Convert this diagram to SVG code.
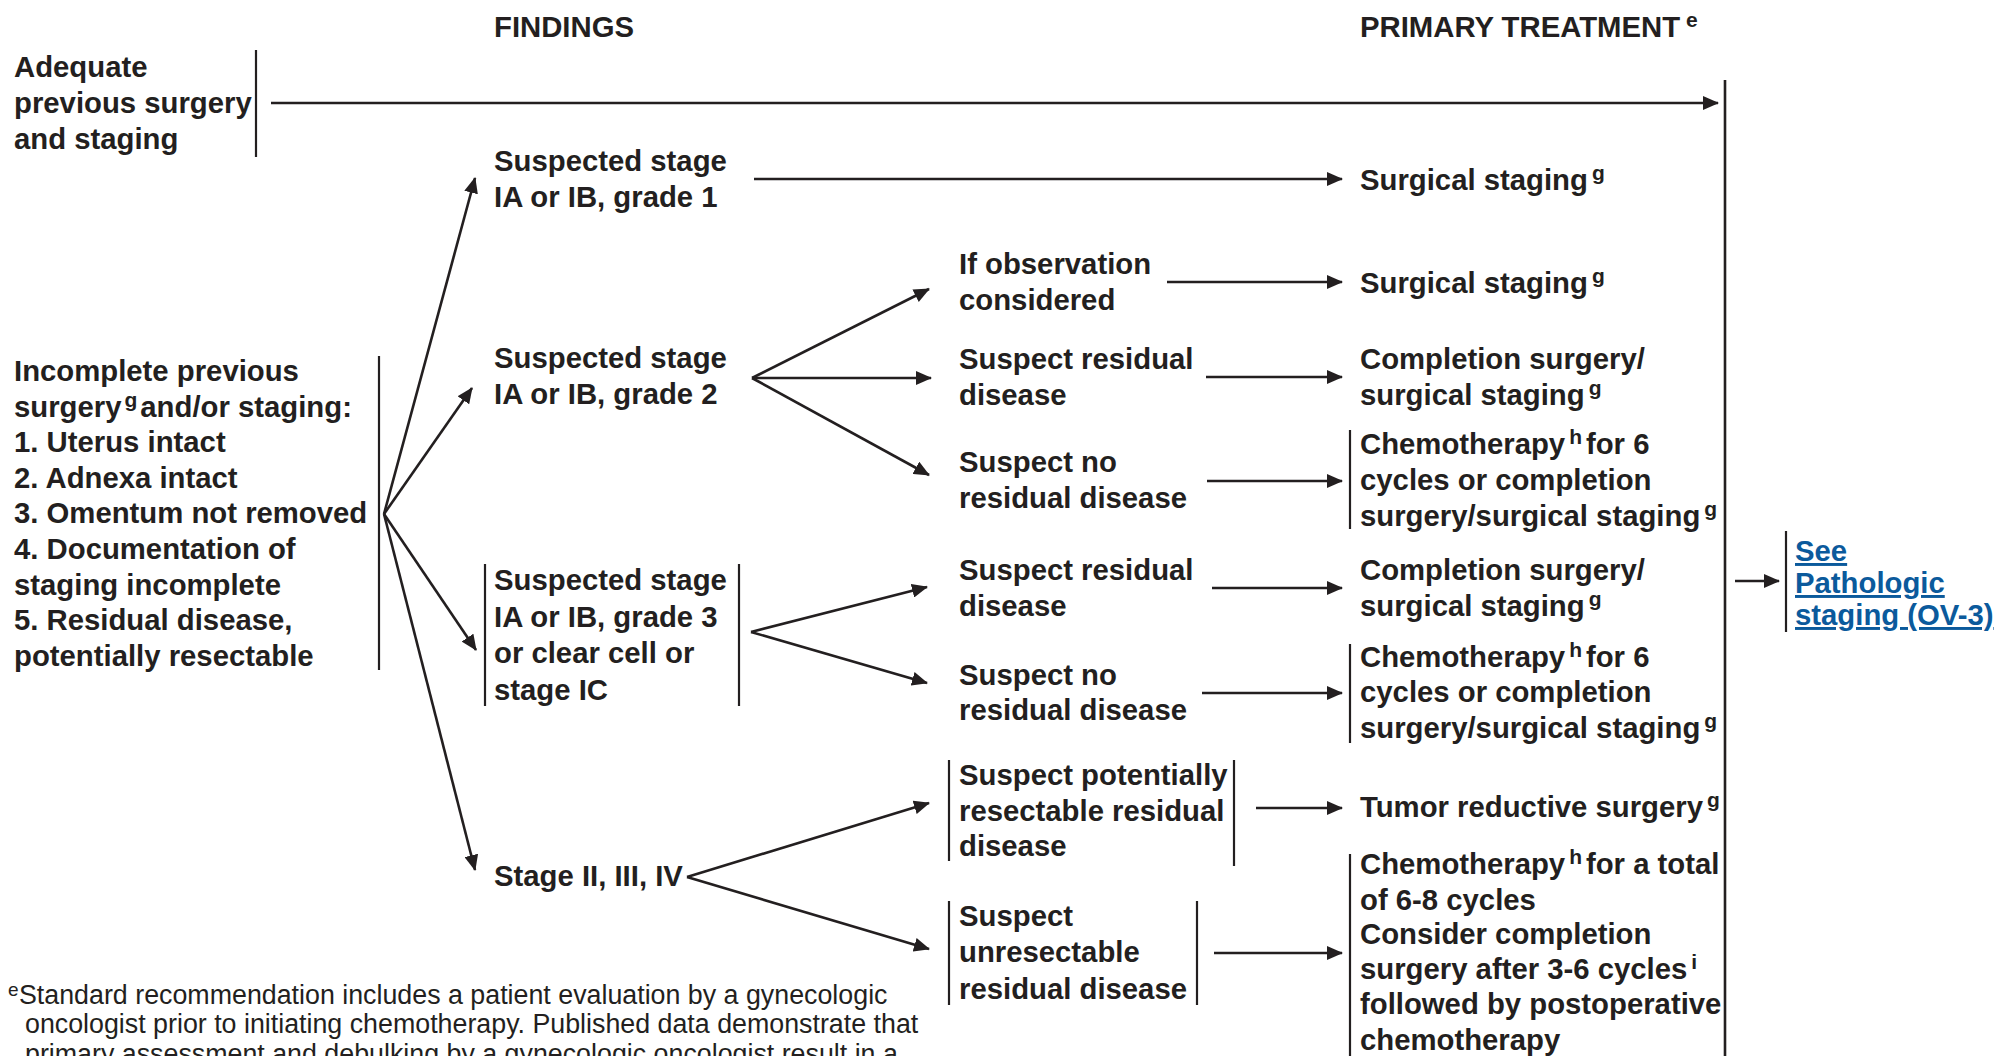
<svg xmlns="http://www.w3.org/2000/svg" width="1995" height="1056" viewBox="0 0 1995 1056">
<style>
text{font-family:"Liberation Sans",Arial,sans-serif;font-weight:bold;font-size:29.3px;fill:#231f20}
.sup{font-size:21px}
.fn{font-weight:normal;font-size:26.8px}
.fnsup{font-weight:normal;font-size:19px}
.link{fill:#0b5a9c;text-decoration:underline}
.bar{stroke:#231f20;stroke-width:2.2;fill:none}
.con{stroke:#231f20;stroke-width:2.6;fill:none}
</style>
<defs>
<marker id="ah" markerUnits="userSpaceOnUse" markerWidth="16" markerHeight="14" viewBox="0 0 16 14" refX="15" refY="7" orient="auto">
<path d="M0,0 L16,7 L0,14 Z" fill="#231f20"/>
</marker>
</defs>
<rect width="1995" height="1056" fill="#ffffff"/>

<g id="headers">
<text x="494" y="37">FINDINGS</text>
<text x="1360" y="37">PRIMARY TREATMENT<tspan class="sup" dx="6" dy="-10">e</tspan></text>
</g>

<g id="node-adequate">
<text x="14" y="77">Adequate</text>
<text x="14" y="113">previous surgery</text>
<text x="14" y="149">and staging</text>
<line class="bar" x1="256" y1="50" x2="256" y2="157"/>
</g>

<g id="node-incomplete">
<text x="14" y="381">Incomplete previous</text>
<text x="14" y="417">surgery<tspan class="sup" dx="3" dy="-10">g</tspan><tspan dx="3" dy="10">and/or staging:</tspan></text>
<text x="14" y="452">1. Uterus intact</text>
<text x="14" y="488">2. Adnexa intact</text>
<text x="14" y="523">3. Omentum not removed</text>
<text x="14" y="559">4. Documentation of</text>
<text x="14" y="595">staging incomplete</text>
<text x="14" y="630">5. Residual disease,</text>
<text x="14" y="666">potentially resectable</text>
<line class="bar" x1="379" y1="356" x2="379" y2="670"/>
</g>

<g id="node-grade1">
<text x="494" y="171">Suspected stage</text>
<text x="494" y="207">IA or IB, grade 1</text>
</g>

<g id="node-grade2">
<text x="494" y="368">Suspected stage</text>
<text x="494" y="404">IA or IB, grade 2</text>
</g>

<g id="node-grade3">
<text x="494" y="590">Suspected stage</text>
<text x="494" y="627">IA or IB, grade 3</text>
<text x="494" y="663">or clear cell or</text>
<text x="494" y="700">stage IC</text>
<line class="bar" x1="485" y1="564" x2="485" y2="706"/>
<line class="bar" x1="739" y1="564" x2="739" y2="706"/>
</g>

<g id="node-stage234">
<text x="494" y="886">Stage II, III, IV</text>
</g>

<g id="node-observation">
<text x="959" y="274">If observation</text>
<text x="959" y="310">considered</text>
</g>

<g id="node-residual-a">
<text x="959" y="369">Suspect residual</text>
<text x="959" y="405">disease</text>
</g>

<g id="node-noresidual-a">
<text x="959" y="472">Suspect no</text>
<text x="959" y="508">residual disease</text>
</g>

<g id="node-residual-b">
<text x="959" y="580">Suspect residual</text>
<text x="959" y="616">disease</text>
</g>

<g id="node-noresidual-b">
<text x="959" y="685">Suspect no</text>
<text x="959" y="720">residual disease</text>
</g>

<g id="node-resectable">
<text x="959" y="785">Suspect potentially</text>
<text x="959" y="821">resectable residual</text>
<text x="959" y="856">disease</text>
<line class="bar" x1="949" y1="760" x2="949" y2="861"/>
<line class="bar" x1="1234" y1="760" x2="1234" y2="866"/>
</g>

<g id="node-unresectable">
<text x="959" y="926">Suspect</text>
<text x="959" y="962">unresectable</text>
<text x="959" y="999">residual disease</text>
<line class="bar" x1="949" y1="901" x2="949" y2="1005"/>
<line class="bar" x1="1197" y1="901" x2="1197" y2="1005"/>
</g>

<g id="node-tx-staging1">
<text x="1360" y="190">Surgical staging<tspan class="sup" dx="4" dy="-10">g</tspan></text>
</g>

<g id="node-tx-staging2">
<text x="1360" y="293">Surgical staging<tspan class="sup" dx="4" dy="-10">g</tspan></text>
</g>

<g id="node-tx-completion-a">
<text x="1360" y="369">Completion surgery/</text>
<text x="1360" y="405">surgical staging<tspan class="sup" dx="4" dy="-10">g</tspan></text>
</g>

<g id="node-tx-chemo-a">
<text x="1360" y="454">Chemotherapy<tspan class="sup" dx="4" dy="-10">h</tspan><tspan dx="4" dy="10">for 6</tspan></text>
<text x="1360" y="490">cycles or completion</text>
<text x="1360" y="526">surgery/surgical staging<tspan class="sup" dx="4" dy="-10">g</tspan></text>
<line class="bar" x1="1350" y1="430" x2="1350" y2="529"/>
</g>

<g id="node-tx-completion-b">
<text x="1360" y="580">Completion surgery/</text>
<text x="1360" y="616">surgical staging<tspan class="sup" dx="4" dy="-10">g</tspan></text>
</g>

<g id="node-tx-chemo-b">
<text x="1360" y="667">Chemotherapy<tspan class="sup" dx="4" dy="-10">h</tspan><tspan dx="4" dy="10">for 6</tspan></text>
<text x="1360" y="702">cycles or completion</text>
<text x="1360" y="738">surgery/surgical staging<tspan class="sup" dx="4" dy="-10">g</tspan></text>
<line class="bar" x1="1350" y1="644" x2="1350" y2="743"/>
</g>

<g id="node-tx-tumor">
<text x="1360" y="817">Tumor reductive surgery<tspan class="sup" dx="4" dy="-10">g</tspan></text>
</g>

<g id="node-tx-chemo-c">
<text x="1360" y="874">Chemotherapy<tspan class="sup" dx="4" dy="-10">h</tspan><tspan dx="4" dy="10">for a total</tspan></text>
<text x="1360" y="910">of 6-8 cycles</text>
<text x="1360" y="944">Consider completion</text>
<text x="1360" y="979">surgery after 3-6 cycles<tspan class="sup" dx="4" dy="-10">i</tspan></text>
<text x="1360" y="1014">followed by postoperative</text>
<text x="1360" y="1050">chemotherapy</text>
<line class="bar" x1="1350" y1="854" x2="1350" y2="1056"/>
</g>

<g id="node-see">
<text class="link" x="1795" y="561">See</text>
<text class="link" x="1795" y="593">Pathologic</text>
<text class="link" x="1795" y="625">staging (OV-3)</text>
<line class="bar" x1="1786" y1="531" x2="1786" y2="632"/>
</g>

<g id="connectors">
<line class="con" x1="271" y1="103" x2="1718" y2="103" marker-end="url(#ah)"/>
<line class="con" x1="1725" y1="80" x2="1725" y2="1056"/>
<line class="con" x1="754" y1="179" x2="1342" y2="179" marker-end="url(#ah)"/>
<line class="con" x1="1167" y1="282" x2="1342" y2="282" marker-end="url(#ah)"/>
<line class="con" x1="752" y1="378" x2="929" y2="289" marker-end="url(#ah)"/>
<line class="con" x1="752" y1="378" x2="931" y2="378" marker-end="url(#ah)"/>
<line class="con" x1="752" y1="378" x2="929" y2="475" marker-end="url(#ah)"/>
<line class="con" x1="1206" y1="377" x2="1342" y2="377" marker-end="url(#ah)"/>
<line class="con" x1="1207" y1="481" x2="1342" y2="481" marker-end="url(#ah)"/>
<line class="con" x1="384" y1="514" x2="475" y2="178" marker-end="url(#ah)"/>
<line class="con" x1="384" y1="514" x2="472" y2="388" marker-end="url(#ah)"/>
<line class="con" x1="384" y1="514" x2="476" y2="650" marker-end="url(#ah)"/>
<line class="con" x1="384" y1="514" x2="475" y2="870" marker-end="url(#ah)"/>
<line class="con" x1="751" y1="632" x2="927" y2="587" marker-end="url(#ah)"/>
<line class="con" x1="751" y1="632" x2="927" y2="683" marker-end="url(#ah)"/>
<line class="con" x1="1212" y1="588" x2="1342" y2="588" marker-end="url(#ah)"/>
<line class="con" x1="1202" y1="693" x2="1342" y2="693" marker-end="url(#ah)"/>
<line class="con" x1="687" y1="877" x2="929" y2="803" marker-end="url(#ah)"/>
<line class="con" x1="687" y1="877" x2="929" y2="949" marker-end="url(#ah)"/>
<line class="con" x1="1256" y1="808" x2="1342" y2="808" marker-end="url(#ah)"/>
<line class="con" x1="1214" y1="953" x2="1342" y2="953" marker-end="url(#ah)"/>
<line class="con" x1="1735" y1="581" x2="1779" y2="581" marker-end="url(#ah)"/>
</g>

<g id="footnote">
<text class="fnsup" x="8" y="996">e</text>
<text class="fn" x="19" y="1004">Standard recommendation includes a patient evaluation by a gynecologic</text>
<text class="fn" x="25" y="1033">oncologist prior to initiating chemotherapy. Published data demonstrate that</text>
<text class="fn" x="25" y="1063">primary assessment and debulking by a gynecologic oncologist result in a</text>
</g>
</svg>
